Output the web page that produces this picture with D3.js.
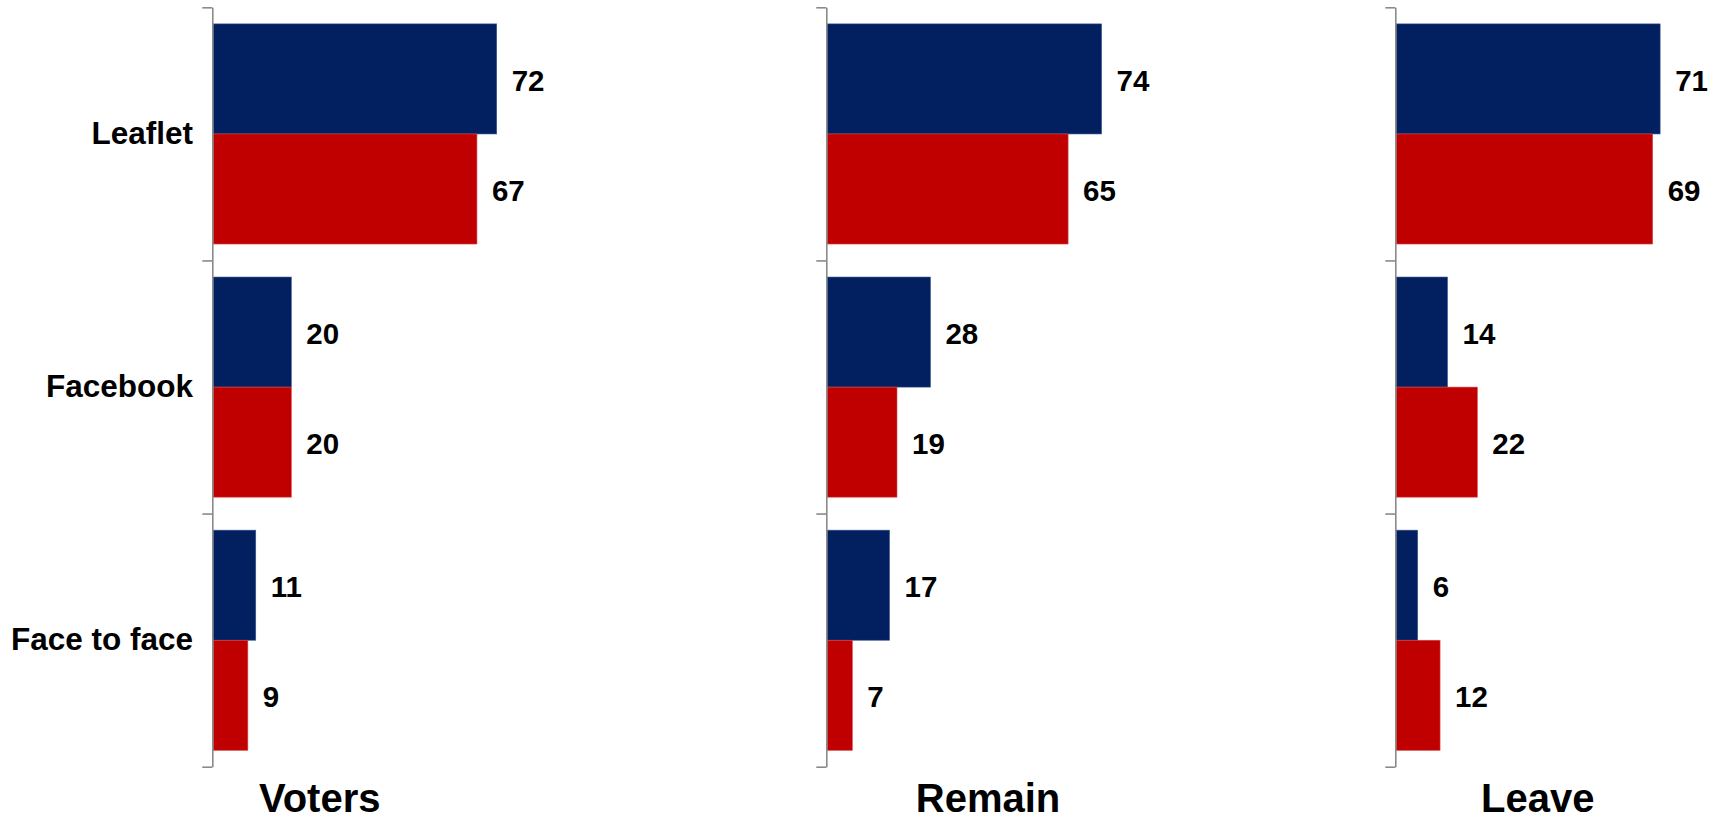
<!DOCTYPE html>
<html>
<head>
<meta charset="utf-8">
<script src="https://cdn.jsdelivr.net/npm/d3@7"></script>
<style>
  html, body { margin: 0; padding: 0; background: #ffffff; }
  svg { display: block; }
  text { font-family: "Liberation Sans", Arial, sans-serif; font-weight: bold; fill: #000; }
</style>
</head>
<body>
<script>
// ---- Data ----
const categories = ["Leaflet", "Facebook", "Face to face"];
const series = ["Blue", "Red"];
const panels = ["Voters", "Remain", "Leave"];
const votersBlue = [72, 20, 11];
const votersRed  = [67, 20, 9];
const remainBlue = [74, 28, 17];
const remainRed  = [65, 19, 7];
const leaveBlue  = [71, 14, 6];
const leaveRed   = [69, 22, 12];

const panelData = [
  [votersBlue, votersRed],
  [remainBlue, remainRed],
  [leaveBlue, leaveRed]
];

// ---- Layout ----
const W = 1720, H = 821;
const colors = ["#02205F", "#C00000"];
const axisX = [212.3, 826.3, 1395.3];
const pxPer100 = [395, 372, 373];
const titleCenter = [319.7, 988, 1537.7];
const yTop = 7.3, yBottom = 766.7;

const svg = d3.select("body").append("svg")
  .attr("width", W).attr("height", H);

const y = d3.scaleBand().domain(categories).range([yTop, yBottom]).paddingInner(0).paddingOuter(0);
const ySeries = d3.scaleBand().domain(series)
  .range([16.6, y.bandwidth() - 16.4]).paddingInner(0).paddingOuter(0);
const yTicks = d3.scaleLinear().domain([0, categories.length]).range([yTop, yBottom]);

panels.forEach((name, p) => {
  const x = d3.scaleLinear().domain([0, 100]).range([axisX[p], axisX[p] + pxPer100[p]]);
  const g = svg.append("g");

  // bars
  categories.forEach((cat, ci) => {
    series.forEach((s, si) => {
      const v = panelData[p][si][ci];
      const y0 = y(cat) + ySeries(s);
      g.append("rect")
        .attr("x", x(0) + 0.8)
        .attr("y", y0)
        .attr("width", x(v) - x(0) - 0.8)
        .attr("height", ySeries.bandwidth())
        .attr("fill", colors[si])
        .attr("stroke", si === 0 ? "#3a5590" : "#d84a4a")
        .attr("stroke-width", 0.6);
      g.append("text")
        .attr("x", x(v) + 15)
        .attr("y", y0 + ySeries.bandwidth() / 2 + 12)
        .attr("font-size", 29.5)
        .text(v);
    });
  });

  // axis with tick marks between categories
  const ax = g.append("g")
    .attr("transform", `translate(${axisX[p]},0)`)
    .call(d3.axisLeft(yTicks).tickValues(d3.range(categories.length + 1))
      .tickSize(10).tickSizeOuter(0).tickFormat(""));
  ax.selectAll("path, line").attr("stroke", "#8a8a8a").attr("stroke-width", 1.6);

  // panel title
  svg.append("text")
    .attr("x", titleCenter[p])
    .attr("y", 812)
    .attr("text-anchor", "middle")
    .attr("font-size", 40)
    .text(name);
});

// category labels (left panel only)
svg.append("g").selectAll("text").data(categories).join("text")
  .attr("x", 193)
  .attr("y", d => y(d) + y.bandwidth() / 2 + 10)
  .attr("text-anchor", "end")
  .attr("font-size", 31.5)
  .text(d => d);
</script>
</body>
</html>
